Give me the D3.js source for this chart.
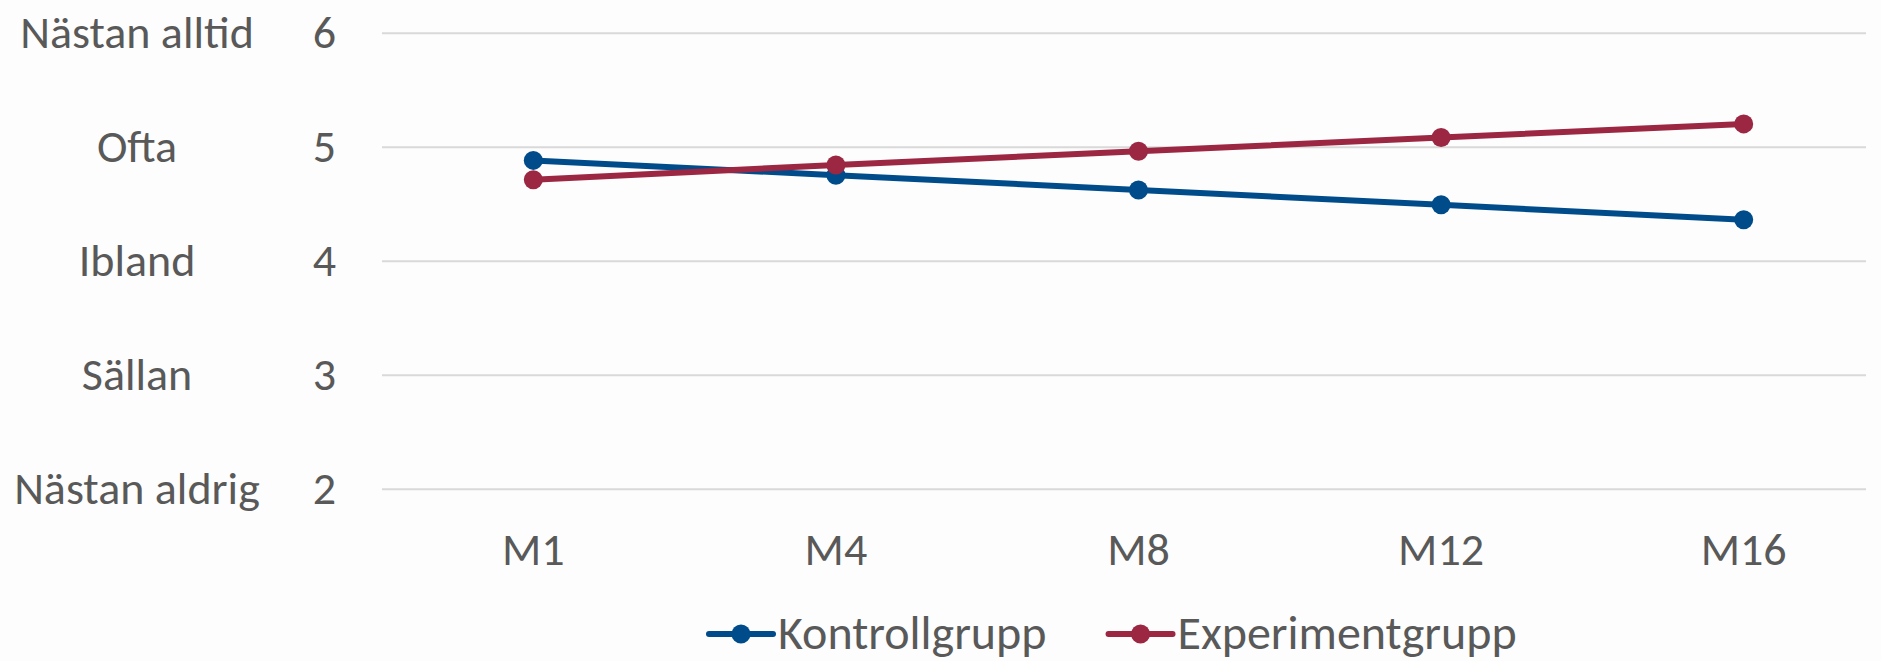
<html>
<head>
<meta charset="utf-8">
<script src="https://d3js.org/d3.v7.min.js"></script>
<style>
body { margin: 0; background: #fdfdfd; }
svg { display: block; font-family: Carlito, Calibri, Lato, sans-serif; }
.axis path { display: none; }
.axis text { fill: #595959; font-size: 46px; font-family: Carlito, Calibri, Lato, sans-serif; }
.grid line { stroke: #d9d9d9; stroke-width: 2; }
.grid path { display: none; }
.legend text { fill: #595959; font-size: 48px; }
</style>
</head>
<body>
<div id="chart"></div>
<script>

var width = 1881;
var height = 661;

// Data
var months = ["M1", "M4", "M8", "M12", "M16"];
var kontroll = [4.88, 4.75, 4.62, 4.49, 4.36];
var experiment = [4.71, 4.84, 4.96, 5.08, 5.20];
var yTicks = [2, 3, 4, 5, 6];
var yLabels = ["Nästan aldrig", "Sällan", "Ibland", "Ofta", "Nästan alltid"];
var seriesNames = ["Kontrollgrupp", "Experimentgrupp"];
var seriesColors = ["#004c8b", "#9b2743"];

var series = [
  { name: seriesNames[0], color: seriesColors[0], values: kontroll },
  { name: seriesNames[1], color: seriesColors[1], values: experiment }
];

var plotLeft = 382, plotRight = 1866, plotTop = 32.7, plotBottom = 488.7;

var svg = d3.select("#chart").append("svg")
  .attr("width", width).attr("height", height);

var xScale = d3.scaleBand().domain(months).range([plotLeft, 1895]);
var yScale = d3.scaleLinear().domain([2, 6]).range([plotBottom, plotTop]);

var cx = function (d, i) { return xScale(months[i]) + xScale.bandwidth() / 2; };
var cy = function (d) { return yScale(d); };

// Gridlines
svg.append("g").attr("class", "grid")
  .attr("transform", "translate(" + plotLeft + ",0)")
  .call(d3.axisLeft(yScale).tickValues(yTicks).tickSize(-(plotRight - plotLeft)).tickFormat(""));

// Numeric y axis
svg.append("g").attr("class", "axis")
  .attr("transform", "translate(" + plotLeft + ",0)")
  .call(d3.axisLeft(yScale).tickValues(yTicks).tickSize(0).tickPadding(46).tickFormat(d3.format("d")));

// Verbal labels for the scale
var labelAxis = svg.append("g").attr("class", "axis")
  .attr("transform", "translate(137,0)")
  .call(d3.axisLeft(yScale).tickValues(yTicks).tickSize(0).tickPadding(0)
    .tickFormat(function (d) { return yLabels[yTicks.indexOf(d)]; }));
labelAxis.selectAll("text").attr("text-anchor", "middle").attr("x", 0);

// x axis
svg.append("g").attr("class", "axis")
  .attr("transform", "translate(0," + plotBottom + ")")
  .call(d3.axisBottom(xScale).tickSize(0).tickPadding(44));

// axis() puts font attrs on the group; let the CSS decide
svg.selectAll(".axis").attr("font-family", null).attr("font-size", null);

// Lines and markers
var line = d3.line().x(cx).y(cy);

series.forEach(function (s) {
  svg.append("path")
    .attr("d", line(s.values))
    .attr("fill", "none")
    .attr("stroke", s.color)
    .attr("stroke-width", 6)
    .attr("stroke-linejoin", "round");
  svg.append("g").selectAll("circle")
    .data(s.values).enter().append("circle")
    .attr("cx", cx).attr("cy", cy)
    .attr("r", 9.5)
    .attr("fill", s.color);
});

// Legend
var legend = svg.append("g").attr("class", "legend");
var lx = 709, ly = 634;
series.forEach(function (s) {
  var item = legend.append("g").attr("transform", "translate(" + lx + "," + ly + ")");
  item.append("line").attr("x1", 0).attr("x2", 64).attr("y1", 0).attr("y2", 0)
    .attr("stroke", s.color).attr("stroke-width", 6).attr("stroke-linecap", "round");
  item.append("circle").attr("cx", 32).attr("cy", 0).attr("r", 9.5).attr("fill", s.color);
  var t = item.append("text").attr("x", 69).attr("y", 0).attr("dy", "0.32em").text(s.name);
  lx += 69 + t.node().getComputedTextLength() + 62;
});

</script>
</body>
</html>
